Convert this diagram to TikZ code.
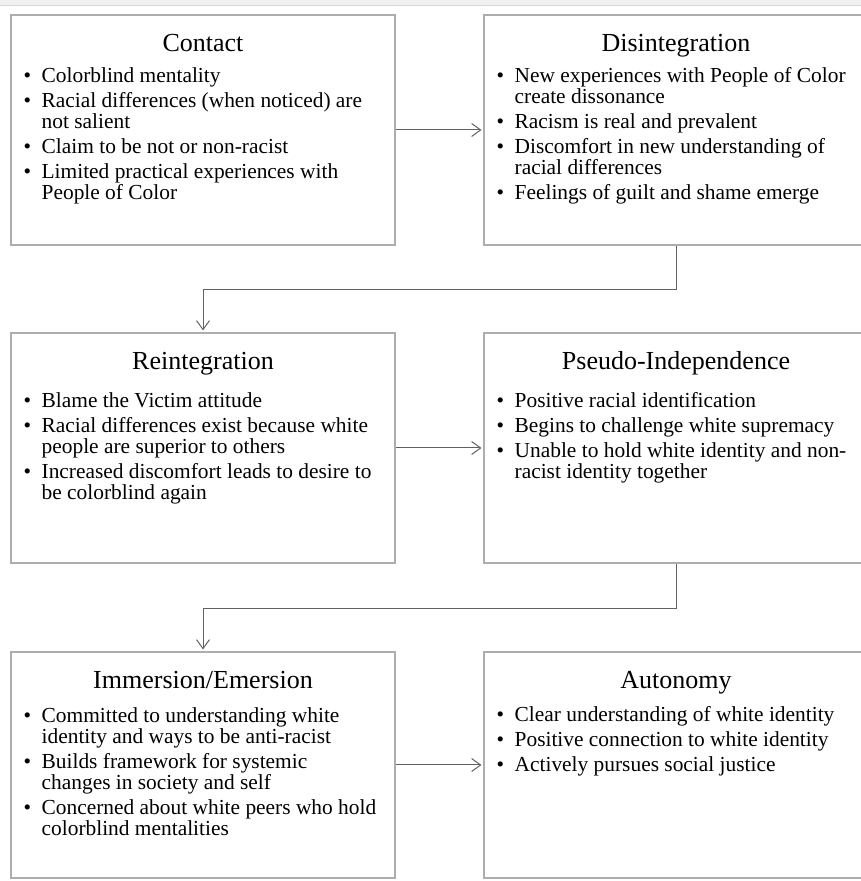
\documentclass[tikz,border=0pt]{standalone}
\usepackage{fontspec}
\setmainfont{Liberation Serif}
\usetikzlibrary{arrows.meta,calc}
\newcommand{\bulletmark}{\makebox[18pt][l]{•}}
\newcommand{\contind}{\hspace*{18pt}}
\tikzset{
  stagebox/.style={draw=black!32, line width=1.1pt, fill=white, minimum width=384pt, minimum height=230pt, inner sep=0pt},
  titletext/.style={font=\fontsize{26}{26}\selectfont, anchor=base, inner sep=0pt, text=black},
  bodytext/.style={font=\fontsize{21.4}{21}\selectfont, anchor=north west, align=left, inner sep=0pt, text=black},
  flow/.style={draw=black!62, line width=1pt, -{Straight Barb[length=9pt,width=13pt]}},
}
\begin{document}
\begin{tikzpicture}[x=1pt,y=1pt]
\useasboundingbox (0,0) rectangle (861,881);
\fill[black!6] (0,875) rectangle (861,881);
\draw[black!15, line width=0.8pt] (0,876) -- (861,876);

% boxes
\node[stagebox] (C) at (203,751) {};
\node[stagebox] (D) at (676,751) {};
\node[stagebox] (R) at (203,433) {};
\node[stagebox] (P) at (676,433) {};
\node[stagebox, minimum height=226pt] (I) at (203,116) {};
\node[stagebox, minimum height=226pt] (A) at (676,116) {};

% titles
\node[titletext] (Ct) at ($(C.north)+(0,-37)$) {Contact};
\node[titletext] (Dt) at ($(D.north)+(0,-37)$) {Disintegration};
\node[titletext] (Rt) at ($(R.north)+(0,-37)$) {Reintegration};
\node[titletext] (Pt) at ($(P.north)+(0,-37)$) {Pseudo-Independence};
\node[titletext] (It) at ($(I.north)+(0,-37)$) {Immersion/Emersion};
\node[titletext] (At) at ($(A.north)+(0,-37)$) {Autonomy};

% bodies
\node[bodytext] (Cb) at ($(C.north west)+(13,-52)$) {\rule{0pt}{16pt}\bulletmark Colorblind mentality\\[4pt]
\bulletmark Racial differences (when noticed) are\\
\contind not salient\\[4pt]
\bulletmark Claim to be not or non-racist\\[4pt]
\bulletmark Limited practical experiences with\\
\contind People of Color};

\node[bodytext] (Db) at ($(D.north west)+(13,-52)$) {\rule{0pt}{16pt}\bulletmark New experiences with People of Color\\
\contind create dissonance\\[4pt]
\bulletmark Racism is real and prevalent\\[4pt]
\bulletmark Discomfort in new understanding of\\
\contind racial differences\\[4pt]
\bulletmark Feelings of guilt and shame emerge};

\node[bodytext] (Rb) at ($(R.north west)+(13,-59)$) {\rule{0pt}{16pt}\bulletmark Blame the Victim attitude\\[4pt]
\bulletmark Racial differences exist because white\\
\contind people are superior to others\\[4pt]
\bulletmark Increased discomfort leads to desire to\\
\contind be colorblind again};

\node[bodytext] (Pb) at ($(P.north west)+(13,-59)$) {\rule{0pt}{16pt}\bulletmark Positive racial identification\\[4pt]
\bulletmark Begins to challenge white supremacy\\[4pt]
\bulletmark Unable to hold white identity and non-\\
\contind racist identity together};

\node[bodytext] (Ib) at ($(I.north west)+(13,-55)$) {\rule{0pt}{16pt}\bulletmark Committed to understanding white\\
\contind identity and ways to be anti-racist\\[4pt]
\bulletmark Builds framework for systemic\\
\contind changes in society and self\\[4pt]
\bulletmark Concerned about white peers who hold\\
\contind colorblind mentalities};

\node[bodytext] (Ab) at ($(A.north west)+(13,-54)$) {\rule{0pt}{16pt}\bulletmark Clear understanding of white identity\\[4pt]
\bulletmark Positive connection to white identity\\[4pt]
\bulletmark Actively pursues social justice};

% connectors
\coordinate (k1) at (676,591);
\coordinate (k2) at (676,272);
\draw[flow, shorten >=2pt] (C.east) -- (D.west);
\draw[flow, shorten >=2pt] (D.south) -- (k1) -| (R.north);
\draw[flow, shorten >=2pt] (R.east) -- (P.west);
\draw[flow, shorten >=2pt] (P.south) -- (k2) -| (I.north);
\draw[flow, shorten >=2pt] (I.east) -- (A.west);
\end{tikzpicture}
\end{document}
